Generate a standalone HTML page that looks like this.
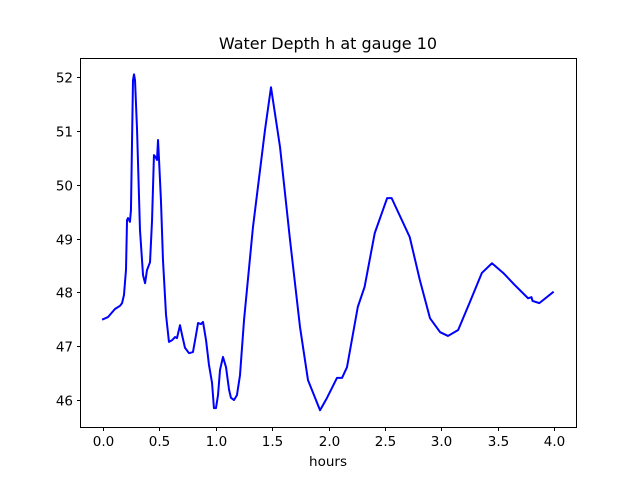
<!DOCTYPE html>
<html><head><meta charset="utf-8"><style>
html,body{margin:0;padding:0;background:#fff;}
svg{display:block;font-family:"DejaVu Sans","Liberation Sans",sans-serif;}
</style></head><body>
<svg id="chart" width="640" height="480" viewBox="0 0 640 480" xmlns="http://www.w3.org/2000/svg">
<rect x="0" y="0" width="640" height="480" fill="#fff"/>
<text x="328" y="49" font-size="16" text-anchor="middle">Water Depth h at gauge 10</text>
<g id="plot"></g>
<rect x="80.5" y="58.5" width="496" height="369" fill="none" stroke="#000" stroke-width="1"/>
<g id="xticks"></g>
<g id="yticks"></g>
<text x="328" y="466" font-size="13.5" text-anchor="middle">hours</text>
</svg>
<script>
const hours = [0,0.044,0.106,0.151,0.169,0.186,0.204,0.213,0.222,0.239,0.248,0.266,0.275,0.284,0.302,0.328,0.355,0.373,0.390,0.417,0.435,0.452,0.470,0.479,0.488,0.497,0.514,0.532,0.559,0.585,0.612,0.639,0.656,0.683,0.701,0.727,0.763,0.798,0.825,0.843,0.869,0.887,0.914,0.940,0.967,0.984,1.002,1.020,1.038,1.064,1.091,1.118,1.135,1.162,1.188,1.215,1.251,1.33,1.437,1.49,1.57,1.659,1.747,1.818,1.925,1.987,2.075,2.12,2.164,2.26,2.32,2.41,2.52,2.56,2.72,2.81,2.90,2.99,3.06,3.15,3.25,3.36,3.45,3.55,3.65,3.77,3.80,3.81,3.87,3.99];
const depth = [47.5,47.54,47.69,47.75,47.80,47.95,48.42,49.34,49.38,49.31,49.53,51.94,52.05,51.94,51.02,49.16,48.32,48.17,48.41,48.56,49.34,50.55,50.50,50.46,50.83,50.46,49.71,48.60,47.58,47.08,47.11,47.17,47.15,47.39,47.21,46.97,46.87,46.89,47.21,47.43,47.41,47.45,47.11,46.65,46.32,45.85,45.85,46.09,46.56,46.80,46.61,46.19,46.04,46.00,46.09,46.46,47.49,49.21,51.02,51.81,50.70,48.97,47.36,46.37,45.81,46.04,46.41,46.41,46.61,47.73,48.10,49.10,49.75,49.75,49.03,48.23,47.52,47.26,47.19,47.30,47.80,48.36,48.54,48.36,48.14,47.89,47.91,47.84,47.80,48.00];
const xTicks = [0,0.5,1,1.5,2,2.5,3,3.5,4];
const xTickLabels = ["0.0","0.5","1.0","1.5","2.0","2.5","3.0","3.5","4.0"];
const yTicks = [46,47,48,49,50,51,52];
const yTickLabels = ["46","47","48","49","50","51","52"];

const NS = "http://www.w3.org/2000/svg";
function xs(v){ return 103 + v * 112.75; }
function ys(v){ return 400 - (v - 46) * 53.83; }
function mk(tag, attrs, parent){ const e = document.createElementNS(NS, tag); for (const k in attrs) e.setAttribute(k, attrs[k]); parent.appendChild(e); return e; }

const plot = document.getElementById('plot');
let d = hours.map((h,i)=>(i?'L':'M')+xs(h).toFixed(2)+','+ys(depth[i]).toFixed(2)).join(' ');
const line = mk('path', {d:d, fill:'none', stroke:'#0000ff', 'stroke-width':2, 'stroke-linejoin':'round', 'stroke-linecap':'square'}, plot);



const xg = document.getElementById('xticks');
xTicks.forEach((t,i)=>{
  const x = Math.round(xs(t)) + 0.5;
  const tk = mk('line', {x1:x, x2:x, y1:427.5, y2:431, stroke:'#000', 'stroke-width':1}, xg);
  
  
  const lb = mk('text', {x:x, y:446, 'font-size':13.5, 'text-anchor':'middle'}, xg);
  lb.textContent = xTickLabels[i];
  
  
});
const yg = document.getElementById('yticks');
yTicks.forEach((t,i)=>{
  const y = Math.round(ys(t)) + 0.5;
  const tk = mk('line', {x1:77, x2:80.5, y1:y, y2:y, stroke:'#000', 'stroke-width':1}, yg);
  
  
  const lb = mk('text', {x:73, y:y+5, 'font-size':13.5, 'text-anchor':'end'}, yg);
  lb.textContent = yTickLabels[i];
  
  
});
</script>
</body></html>
